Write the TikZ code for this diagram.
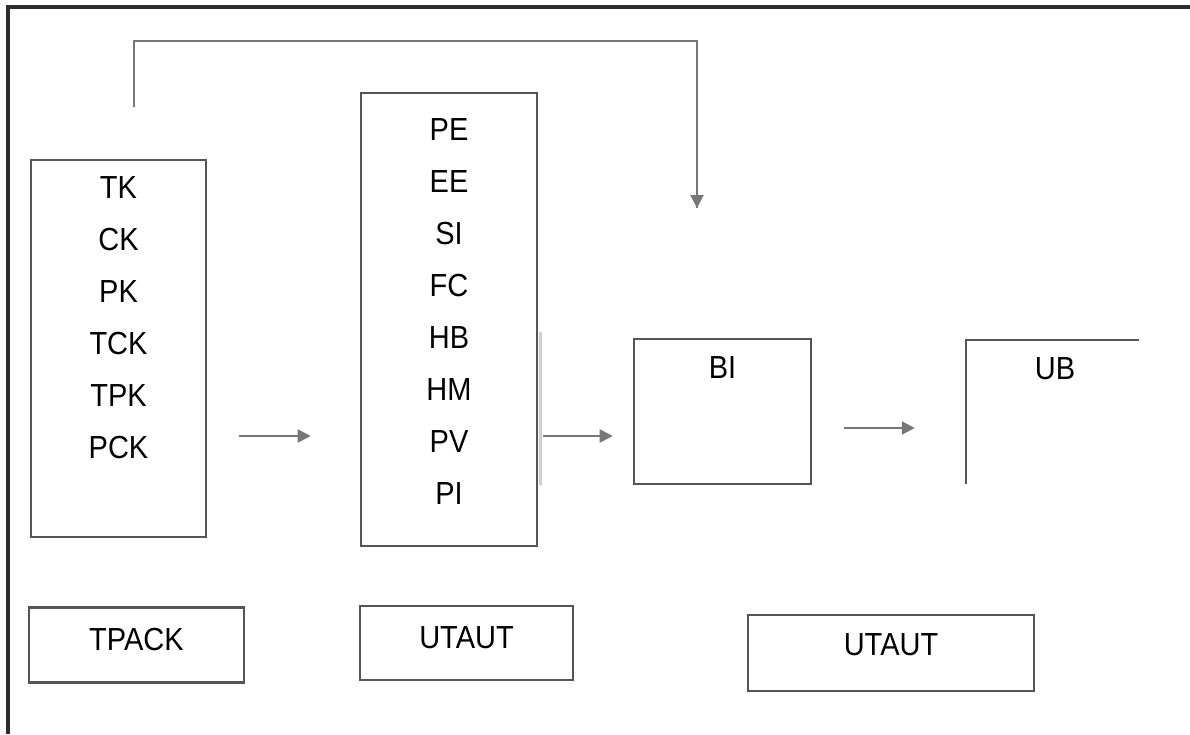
\documentclass[tikz,border=0pt]{standalone}
\usepackage{fontspec}
\setmainfont{Liberation Sans}
\usetikzlibrary{arrows.meta}
\definecolor{framec}{HTML}{2E2E2E}
\definecolor{boxc}{HTML}{555555}
\definecolor{arrc}{HTML}{777777}
\definecolor{ghostc}{HTML}{CFCFCF}
\newcommand{\tallcaps}[1]{\scalebox{1}[1.1]{#1}}
\begin{document}
\begin{tikzpicture}[x=1pt,y=-1pt,
  boxshape/.style={draw=boxc,line width=2.6pt,inner sep=0pt},
  openbox/.style={inner sep=0pt},
  lbl/.style={inner sep=0pt,font=\fontsize{29}{34}\selectfont},
  arr/.style={draw=arrc,line width=2pt,-{Triangle[length=13pt,width=13pt]}},
  fb/.style={draw=arrc,line width=1.6pt},
  frame/.style={draw=framec,line width=3.4pt}]
\useasboundingbox (0,0) rectangle (1190,734);
% outer frame: top and left sides only
\draw[frame] (8,734) -- (8,7) -- (1190,7);

% main boxes
\node[boxshape,minimum width=175pt,minimum height=377pt] (tk) at (118.5,348.5) {};
\node[boxshape,minimum width=176pt,minimum height=453pt] (mid) at (449,319.5) {};
\node[boxshape,minimum width=177pt,minimum height=145pt] (bi) at (722.5,411.5) {};
\node[openbox,minimum width=173pt,minimum height=144pt] (ub) at (1052.5,412) {};
\draw[draw=boxc,line width=2.6pt] (ub.south west) -- (ub.north west) -- (ub.north east);
% faint second edge beside the middle box
\draw[draw=ghostc,line width=2.4pt] (540.5,332) -- (540.5,485);

% labels of the first box
\node[lbl] (tk1) at (118.5,188) {\tallcaps{TK}};
\node[lbl] (tk2) at (118.5,240) {\tallcaps{CK}};
\node[lbl] (tk3) at (118.5,292) {\tallcaps{PK}};
\node[lbl] (tk4) at (118.5,344) {\tallcaps{TCK}};
\node[lbl] (tk5) at (118.5,396) {\tallcaps{TPK}};
\node[lbl] (tk6) at (118.5,448) {\tallcaps{PCK}};

% labels of the middle box
\node[lbl] (m1) at (449,130) {\tallcaps{PE}};
\node[lbl] (m2) at (449,182) {\tallcaps{EE}};
\node[lbl] (m3) at (449,234) {\tallcaps{SI}};
\node[lbl] (m4) at (449,286) {\tallcaps{FC}};
\node[lbl] (m5) at (449,338) {\tallcaps{HB}};
\node[lbl] (m6) at (449,390) {\tallcaps{HM}};
\node[lbl] (m7) at (449,442) {\tallcaps{PV}};
\node[lbl] (m8) at (449,494) {\tallcaps{PI}};

\node[lbl] (bil) at (722.5,368) {\tallcaps{BI}};
\node[lbl] (ubl) at (1055,369) {\tallcaps{UB}};

% theory boxes along the bottom
\node[boxshape,minimum width=215pt,minimum height=75pt] (tpack) at (136.5,645) {};
\node[lbl] at ([yshift=5pt]tpack.center) {\tallcaps{TPACK}};
\node[boxshape,minimum width=213pt,minimum height=74pt] (ut1) at (466.5,643) {};
\node[lbl] at ([yshift=5pt]ut1.center) {\tallcaps{UTAUT}};
\node[boxshape,minimum width=286pt,minimum height=76pt] (ut2) at (891,653) {};
\node[lbl] at ([yshift=8pt]ut2.center) {\tallcaps{UTAUT}};

% connectors
\coordinate (rowa) at (0,436);
\coordinate (rowb) at (0,428);
\draw[arr,shorten <=32pt,shorten >=49pt] (tk.east |- rowa) -- (mid.west |- rowa);
\draw[arr,shorten <=5pt,shorten >=20pt] (mid.east |- rowa) -- (bi.west |- rowa);
\draw[arr,shorten <=32pt,shorten >=51pt] (bi.east |- rowb) -- (ub.west |- rowb);

% feedback line from the first box over to the intention box
\coordinate (fbstart) at (134,107);
\coordinate (fbtop) at (0,41);
\coordinate (fbend) at (697,208);
\draw[fb] (fbstart) -- (fbstart |- fbtop) -- (fbend |- fbtop) -- (fbend);
\draw[arr] ([yshift=14pt]fbend) -- (fbend);
\end{tikzpicture}
\end{document}
